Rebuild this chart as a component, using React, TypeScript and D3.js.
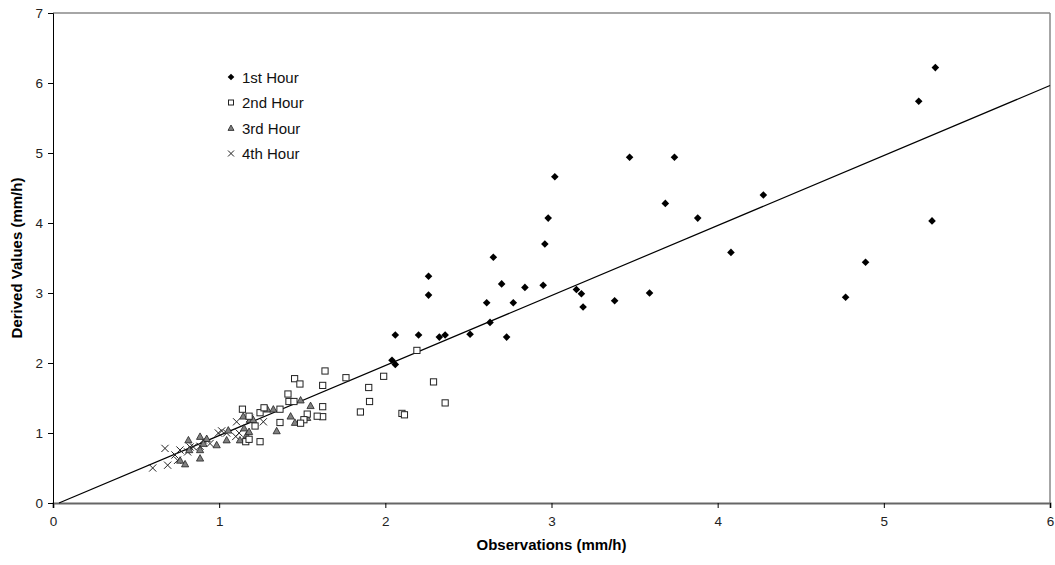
import React, { useRef, useEffect } from "react";
import * as d3 from "d3";

// [observation, derived] pairs, mm/h
const hour1: [number, number][] = [
  [5.31, 6.22], [5.21, 5.74], [4.275, 4.4], [4.08, 3.58], [5.29, 4.03],
  [4.89, 3.44], [4.77, 2.94], [3.47, 4.94], [3.74, 4.94], [3.02, 4.66],
  [3.685, 4.28], [3.88, 4.07], [2.98, 4.07], [2.96, 3.7], [2.65, 3.51],
  [2.26, 3.24], [2.26, 2.97], [2.7, 3.13], [2.84, 3.08], [2.95, 3.11],
  [2.61, 2.86], [2.77, 2.86], [3.15, 3.05], [3.18, 2.99], [3.19, 2.8],
  [3.38, 2.89], [3.59, 3.0], [2.63, 2.58], [2.73, 2.37], [2.51, 2.41],
  [2.06, 2.4], [2.2, 2.4], [2.325, 2.37], [2.36, 2.4], [2.04, 2.04],
  [2.06, 1.98],
];

const hour2: [number, number][] = [
  [2.19, 2.18], [1.637, 1.886], [1.454, 1.776], [1.486, 1.7], [1.623, 1.68],
  [1.763, 1.79], [1.99, 1.81], [1.9, 1.65], [1.905, 1.45], [1.85, 1.3],
  [2.29, 1.73], [2.36, 1.43], [2.1, 1.28], [2.115, 1.26], [1.414, 1.557],
  [1.42, 1.45], [1.45, 1.45], [1.623, 1.376], [1.623, 1.233], [1.59, 1.24],
  [1.53, 1.27], [1.51, 1.19], [1.49, 1.14], [1.366, 1.34], [1.366, 1.15],
  [1.14, 1.34], [1.18, 1.24], [1.246, 1.29], [1.27, 1.36], [1.216, 1.1],
  [1.246, 0.876], [1.16, 0.876], [1.18, 0.91],
];

const hour3: [number, number][] = [
  [1.49, 1.47], [1.55, 1.39], [1.43, 1.24], [1.456, 1.15], [1.53, 1.22],
  [1.346, 1.03], [1.29, 1.34], [1.326, 1.34], [1.145, 1.24], [1.185, 1.19],
  [1.205, 1.19], [1.15, 1.07], [1.165, 0.97], [1.125, 0.9], [1.18, 1.02],
  [1.045, 0.9], [1.055, 1.04], [0.985, 0.83], [0.925, 0.92], [0.885, 0.95],
  [0.885, 0.76], [0.905, 0.85], [0.815, 0.9], [0.795, 0.557], [0.82, 0.76],
  [0.765, 0.61], [0.885, 0.64],
];

const hour4: [number, number][] = [
  [0.6, 0.5], [0.69, 0.54], [0.674, 0.78], [0.734, 0.686], [0.764, 0.757],
  [0.75, 0.61], [0.81, 0.73], [0.845, 0.8], [0.905, 0.9], [0.945, 0.85],
  [0.995, 1.0], [1.015, 1.03], [1.045, 1.0], [1.1, 0.95], [1.105, 1.16],
  [1.185, 1.21], [1.266, 1.16], [1.12, 1.0], [0.885, 0.81], [0.825, 0.8],
];

const legendLabels = ["1st Hour", "2nd Hour", "3rd Hour", "4th Hour"];
const xTicks = [0, 1, 2, 3, 4, 5, 6];
const yTicks = [0, 1, 2, 3, 4, 5, 6, 7];

// fitted line y = slope * x + intercept
const slope = 1.0;
const intercept = -0.036;

const App = () => {
  const ref = useRef<SVGSVGElement>(null);

  useEffect(() => {
    const W = 1055;
    const H = 565;
    const margin = { top: 13, right: 5, bottom: 62, left: 53 };
    const width = W - margin.left - margin.right;
    const height = H - margin.top - margin.bottom;
    const font = "Arial, 'Liberation Sans', sans-serif";

    const svg = d3.select(ref.current);
    svg.selectAll("*").remove();
    svg.attr("width", W).attr("height", H);

    const g = svg.append("g").attr("transform", `translate(${margin.left},${margin.top})`);

    const x = d3.scaleLinear().domain([0, 6]).range([0, width]);
    const y = d3.scaleLinear().domain([0, 7]).range([height, 0]);

    // frame: top and right in gray
    g.append("line").attr("x1", 0).attr("x2", width).attr("y1", 0).attr("y2", 0)
      .attr("stroke", "#888").attr("stroke-width", 1.5);
    g.append("line").attr("x1", width).attr("x2", width).attr("y1", 0).attr("y2", height)
      .attr("stroke", "#888").attr("stroke-width", 1.5);

    // axes
    const xAxis = g.append("g").attr("transform", `translate(0,${height})`)
      .call(d3.axisBottom(x).tickValues(xTicks).tickSize(5).tickPadding(8).tickFormat(d3.format("d")));
    xAxis.select(".domain").attr("stroke", "#666").attr("stroke-width", 2);
    xAxis.selectAll(".tick line").attr("stroke", "#000");

    const yAxis = g.append("g")
      .call(d3.axisLeft(y).tickValues(yTicks).tickSize(5).tickPadding(5).tickFormat(d3.format("d")));
    yAxis.select(".domain").attr("stroke", "#000");
    [xAxis, yAxis].forEach(a => a.selectAll("text")
      .attr("font-family", font).attr("font-size", 13.5).attr("fill", "#222"));

    // regression line
    const x0 = -intercept / slope;
    g.append("line")
      .attr("x1", x(x0)).attr("y1", y(slope * x0 + intercept))
      .attr("x2", x(6)).attr("y2", y(slope * 6 + intercept))
      .attr("stroke", "#000").attr("stroke-width", 1.2);

    const drawMarker = (sel: any, kind: number, s: number) => {
      if (kind === 0) {
        sel.append("path").attr("d", `M0,${-s}L${s},0L0,${s}L${-s},0Z`).attr("fill", "#000");
      } else if (kind === 1) {
        sel.append("rect").attr("x", -s + 0.5).attr("y", -s + 0.5).attr("width", 2 * s - 1).attr("height", 2 * s - 1)
          .attr("fill", "#fff").attr("stroke", "#222").attr("stroke-width", 1);
      } else if (kind === 2) {
        sel.append("path").attr("d", `M0,${-s}L${s},${s * 0.8}L${-s},${s * 0.8}Z`)
          .attr("fill", "#808080").attr("stroke", "#222").attr("stroke-width", 0.8);
      } else {
        sel.append("path").attr("d", `M${-s},${-s}L${s},${s}M${-s},${s}L${s},${-s}`)
          .attr("stroke", "#222").attr("stroke-width", 1);
      }
    };

    const series = [hour1, hour2, hour3, hour4];
    // draw later hours underneath, 1st hour on top
    [3, 2, 1, 0].forEach(k => {
      series[k].forEach(d => {
        const m = g.append("g").attr("transform", `translate(${x(d[0])},${y(d[1])})`);
        drawMarker(m, k, k === 0 ? 3.8 : 3.6);
      });
    });

    // legend
    const lg = svg.append("g").attr("transform", "translate(231,77)");
    legendLabels.forEach((lab, i) => {
      const row = lg.append("g").attr("transform", `translate(0,${i * 25.5})`);
      drawMarker(row.append("g"), i, i === 0 ? 3.3 : 3);
      row.append("text").attr("x", 11).attr("y", 5.5).text(lab)
        .attr("font-family", font).attr("font-size", 15).attr("fill", "#111");
    });

    // axis titles
    svg.append("text").attr("x", margin.left + width / 2).attr("y", 550)
      .attr("text-anchor", "middle").attr("font-family", font).attr("font-size", 15)
      .attr("font-weight", "bold").text("Observations (mm/h)");
    svg.append("text")
      .attr("transform", `translate(22,${margin.top + height / 2}) rotate(-90)`)
      .attr("text-anchor", "middle").attr("font-family", font).attr("font-size", 15)
      .attr("font-weight", "bold").text("Derived Values (mm/h)");
  }, []);

  return <svg ref={ref} style={{ position: "absolute", left: 0, top: 0, display: "block" }}></svg>;
};

export default App;
